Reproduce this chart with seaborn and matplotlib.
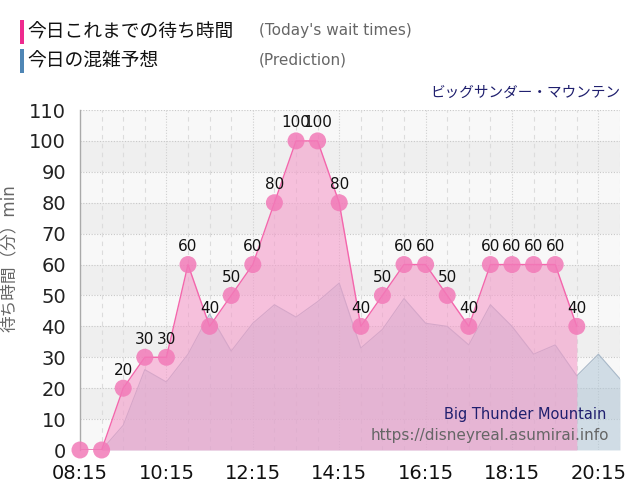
import matplotlib.pyplot as plt
import seaborn as sns
import pandas as pd
from matplotlib.patches import Rectangle

# data
wait_times = ["08:15", "08:45", "09:15", "09:45", "10:15", "10:45", "11:15", "11:45",
              "12:15", "12:45", "13:15", "13:45", "14:15", "14:45", "15:15", "15:45",
              "16:15", "16:45", "17:15", "17:45", "18:15", "18:45", "19:15", "19:45"]
wait_values = [0, 0, 20, 30, 30, 60, 40, 50, 60, 80, 100, 100, 80, 40, 50, 60,
               60, 50, 40, 60, 60, 60, 60, 40]

pred_times = ["08:15", "08:45", "09:15", "09:45", "10:15", "10:45", "11:15", "11:45",
              "12:15", "12:45", "13:15", "13:45", "14:15", "14:45", "15:15", "15:45",
              "16:15", "16:45", "17:15", "17:45", "18:15", "18:45", "19:15", "19:45",
              "20:15", "20:45"]
pred_values = [0, 0, 8, 26, 22, 31, 44, 32, 41, 47, 43, 48, 54, 33, 39, 49,
               41, 40, 34, 47, 40, 31, 34, 24, 31, 23]

x_labels = ["08:15", "10:15", "12:15", "14:15", "16:15", "18:15", "20:15"]
y_ticks = list(range(0, 111, 10))


def to_min(t):
    h, m = t.split(":")
    return int(h) * 60 + int(m)


wait = pd.DataFrame({"time": [to_min(t) for t in wait_times], "value": wait_values})
pred = pd.DataFrame({"time": [to_min(t) for t in pred_times], "value": pred_values})

sns.set_theme(style="white")
plt.rcParams["font.family"] = ["DejaVu Sans", "Noto Sans CJK JP"]

fig = plt.figure(figsize=(6.4, 5), dpi=100)
ax = fig.add_axes([80 / 640, 50 / 500, 540 / 640, 340 / 500])

# striped background + grid
for k in range(11):
    ax.axhspan(k * 10, k * 10 + 10, color="#efefef" if k % 2 else "#f8f8f8", lw=0, zorder=0)
for y in y_ticks[1:]:
    ax.axhline(y, color="#c8c8c8", ls=(0, (1, 1.5)), lw=0.8, zorder=1)
for t in range(to_min("08:45"), to_min("20:45") + 1, 30):
    if (t - to_min("08:15")) % 120 == 0:
        ax.axvline(t, color="#d0d0d0", ls=(0, (1, 1.5)), lw=0.8, zorder=1)
    else:
        ax.axvline(t, color="#dcdcdc", ls=(0, (4, 4)), lw=0.8, zorder=1)

# prediction area
ax.fill_between(pred["time"], pred["value"], color="#b0c6d6", alpha=0.55, lw=0, zorder=2)
sns.lineplot(data=pred, x="time", y="value", color="#a8b8c8", lw=0.8, ax=ax, zorder=3)

# today's wait times
ax.fill_between(wait["time"], wait["value"], color="#f59cca", alpha=0.6, lw=0, zorder=4)
sns.lineplot(data=wait, x="time", y="value", color="#f466ac", lw=1, ax=ax, zorder=5)
sns.scatterplot(data=wait, x="time", y="value", s=150, color="#f27ab8", alpha=0.85,
                edgecolor="none", ax=ax, zorder=6, clip_on=False)
for t, v in zip(wait["time"], wait["value"]):
    if v > 0:
        ax.annotate(str(v), (t, v), xytext=(0, 7.5), textcoords="offset points",
                    ha="center", va="bottom", fontsize=11, color="#111111", zorder=7)

ax.set_xlim(to_min("08:15"), to_min("20:45"))
ax.set_ylim(0, 110)
ax.set_xticks([to_min(t) for t in x_labels])
ax.set_xticklabels(x_labels)
ax.set_yticks(y_ticks)
ax.tick_params(axis="x", labelsize=14, length=9, color="#dddddd", pad=1, labelcolor="#111111")
ax.tick_params(axis="y", labelsize=14, length=8, color="#dddddd", pad=2, labelcolor="#222222")
ax.set_xlabel("")
ax.set_ylabel("待ち時間（分）min", fontsize=12, color="#666666")
ax.yaxis.set_label_coords(-0.115, 0.565)
for side in ["top", "right", "bottom"]:
    ax.spines[side].set_visible(False)
ax.spines["left"].set_color("#aaaaaa")
ax.spines["left"].set_linewidth(1)

# watermark text
ax.text(0.975, 0.09, "Big Thunder Mountain", transform=ax.transAxes, ha="right",
        va="baseline", fontsize=10.5, color="#1f1f6e", zorder=8)
ax.text(0.98, 0.03, "https://disneyreal.asumirai.info", transform=ax.transAxes, ha="right",
        va="baseline", fontsize=11, color="#666666", zorder=8)

# legend header
fig.add_artist(Rectangle((20 / 640, 1 - 44 / 500), 4 / 640, 24 / 500,
                         transform=fig.transFigure, color="#ee2a8e", lw=0))
fig.add_artist(Rectangle((20 / 640, 1 - 73 / 500), 4 / 640, 24 / 500,
                         transform=fig.transFigure, color="#4f86b5", lw=0))
fig.text(27 / 640, 1 - 32 / 500, "今日これまでの待ち時間", fontsize=13.5, va="center", color="#111111")
fig.text(27 / 640, 1 - 61 / 500, "今日の混雑予想", fontsize=13.5, va="center", color="#111111")
fig.text(259 / 640, 1 - 31 / 500, "(Today's wait times)", fontsize=11, va="center", color="#666666")
fig.text(259 / 640, 1 - 60 / 500, "(Prediction)", fontsize=11, va="center", color="#666666")
fig.text(620 / 640, 1 - 92 / 500, "ビッグサンダー・マウンテン", fontsize=10.5, ha="right",
         va="center", color="#1f1f6e")

fig.savefig("out.png", dpi=100, facecolor="white")
